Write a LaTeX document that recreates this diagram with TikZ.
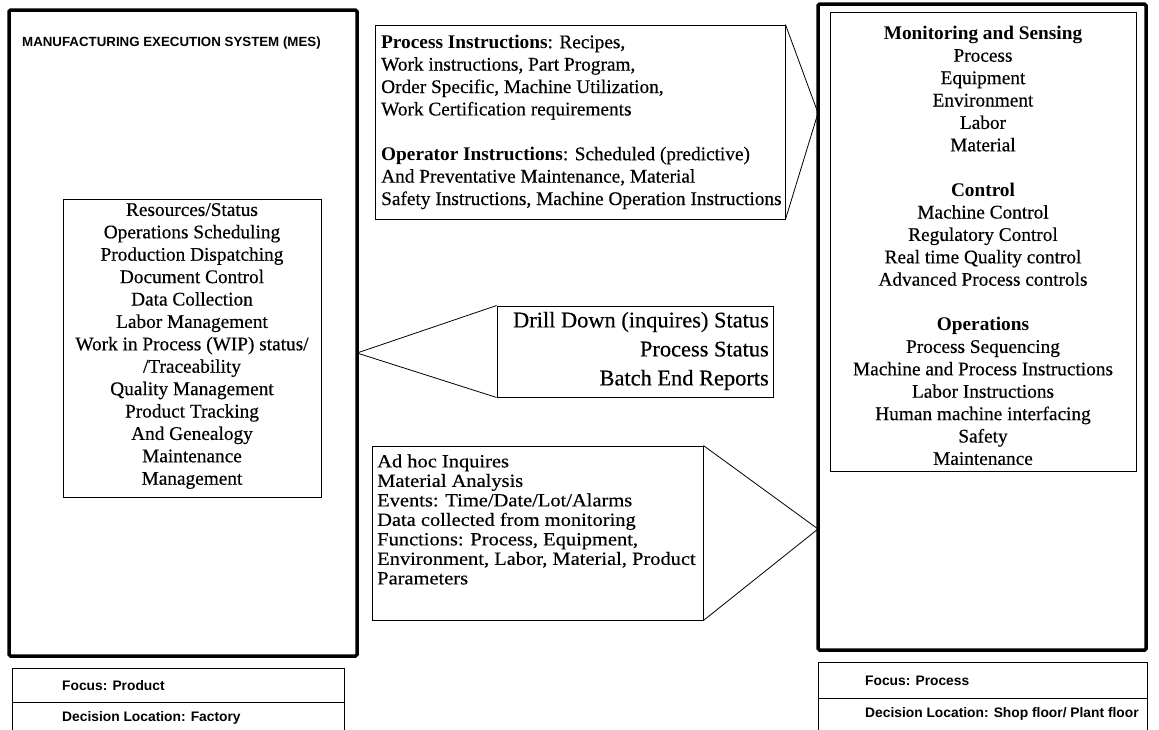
\documentclass[tikz,border=0pt]{standalone}
\usepackage{fontspec}
\setmainfont{Liberation Serif}[UprightFeatures={FakeBold=0.4}]
\newfontfamily\arialf{Liberation Sans}
\newfontfamily\wideserif{Liberation Serif}[FakeStretch=1.1,UprightFeatures={FakeBold=0.4}]
\begin{document}
\begin{tikzpicture}[x=1pt,y=-1pt,
  bigbox/.style={draw, line width=3.5pt, rounded corners=1.5pt, inner sep=0pt},
  thinbox/.style={draw, line width=0.9pt, inner sep=0pt},
  body/.style={font=\fontsize{19.3}{22.4}\selectfont, inner sep=0pt},
  callout/.style={line width=0.8pt},
  sanslabel/.style={font=\arialf\bfseries\fontsize{13.8}{16}\selectfont, anchor=west, inner sep=0pt}]
\path[use as bounding box, fill=white] (0,0) rectangle (1159,729);

% left MES box
\node[bigbox, minimum width=348pt, minimum height=646pt] (mes) at (183,333) {};
\node[font=\arialf\bfseries\fontsize{13.3}{15}\selectfont, anchor=west, inner sep=0pt] (mestitle) at (22,43) {MANUFACTURING EXECUTION SYSTEM (MES)};
\node[thinbox, minimum width=258pt, minimum height=298pt] (mesinner) at (192,348) {};
\node[body, align=center] (mestext) at (192,346) {Resources/Status\\Operations Scheduling\\Production Dispatching\\Document Control\\Data Collection\\Labor Management\\Work in Process (WIP) status/\\/Traceability\\Quality Management\\Product Tracking\\And Genealogy\\Maintenance\\Management};

% right process box
\node[bigbox, minimum width=328pt, minimum height=646pt] (proc) at (982,327) {};
\node[thinbox, minimum width=306pt, minimum height=459pt] (procinner) at (983,241.5) {};
\node[body, align=center] (proctext) at (983,245.5) {\textbf{Monitoring and Sensing}\\Process\\Equipment\\Environment\\Labor\\Material\\[22.4pt]\textbf{Control}\\Machine Control\\Regulatory Control\\Real time Quality control\\Advanced Process controls\\[22.4pt]\textbf{Operations}\\Process Sequencing\\Machine and Process Instructions\\Labor Instructions\\Human machine interfacing\\Safety\\Maintenance};

% top callout
\node[thinbox, minimum width=410pt, minimum height=194pt] (topbox) at (580,122) {};
\node[body, align=left, anchor=west] (toptext) at (381,122) {\textbf{Process Instructions}: Recipes,\\Work instructions, Part Program,\\Order Specific, Machine Utilization,\\Work Certification requirements\\[22.4pt]\textbf{Operator Instructions}: Scheduled (predictive)\\And Preventative Maintenance, Material\\Safety Instructions, Machine Operation Instructions};
\coordinate (apex1) at (818,113);
\draw[callout] (topbox.north east) -- (apex1) -- (topbox.south east);

% middle callout
\node[thinbox, minimum width=276pt, minimum height=91pt] (midbox) at (635,351.5) {};
\node[font=\fontsize{22.4}{29}\selectfont, inner sep=0pt, align=right, anchor=east] (midtext) at (769,351) {Drill Down (inquires) Status\\Process Status\\Batch End Reports};
\coordinate (apex2) at (357,353);
\draw[callout] (midbox.north west) -- (apex2) -- (midbox.south west);

% bottom callout
\node[thinbox, minimum width=331pt, minimum height=174pt] (botbox) at (537.5,533) {};
\node[font=\wideserif\fontsize{18.6}{19.5}\selectfont, inner sep=0pt, align=left, anchor=west] (bottext) at (377,519.5) {Ad hoc Inquires\\Material Analysis\\Events: Time/Date/Lot/Alarms\\Data collected from monitoring\\Functions: Process, Equipment,\\Environment, Labor, Material, Product\\Parameters};
\coordinate (apex3) at (818,529);
\draw[callout] (botbox.north east) -- (apex3) -- (botbox.south east);

% bottom tables
\begin{scope}
\clip (0,0) rectangle (1159,729);
\node[thinbox, minimum width=332pt, minimum height=34pt] (focusL) at (178,685) {};
\node[thinbox, minimum width=332pt, minimum height=36pt] (decL) at (178,720) {};
\node[thinbox, minimum width=329pt, minimum height=36pt] (focusR) at (982.5,680) {};
\node[thinbox, minimum width=329pt, minimum height=40pt] (decR) at (982.5,718) {};
\end{scope}
\node[sanslabel] (focusLt) at (62,686) {Focus: Product};
\node[sanslabel] (decLt) at (62,718) {Decision Location: Factory};
\node[sanslabel] (focusRt) at (865,681) {Focus: Process};
\node[sanslabel] (decRt) at (865,714) {Decision Location: Shop floor/ Plant floor};
\end{tikzpicture}
\end{document}
